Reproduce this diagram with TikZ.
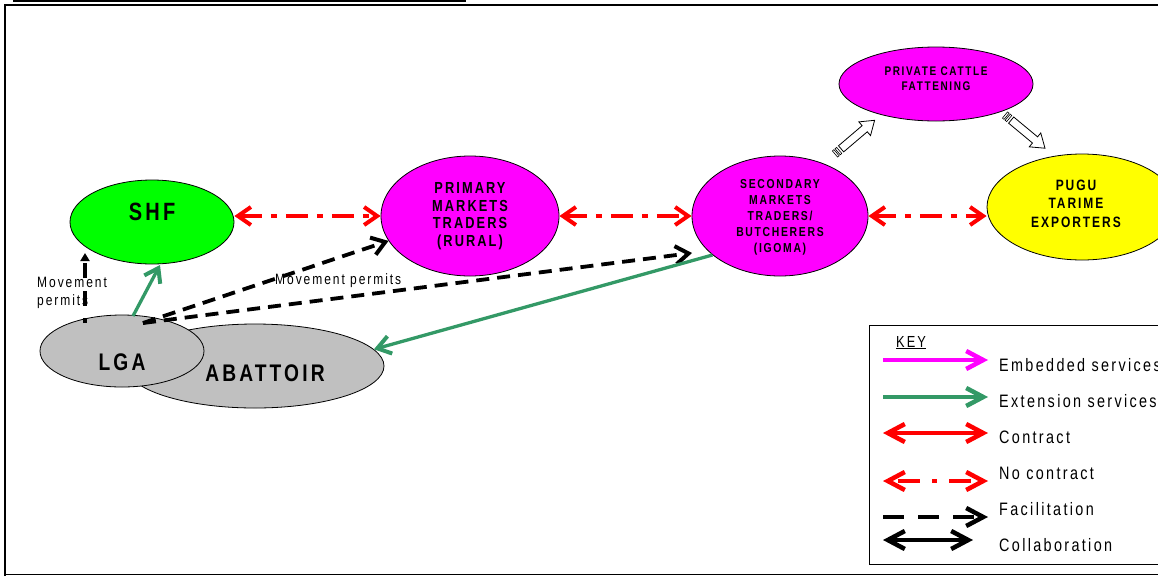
\documentclass[tikz,border=0pt]{standalone}
\usepackage{fontspec}
\setmainfont{Liberation Sans}
\newfontfamily\spaced[FakeStretch=0.8,LetterSpace=13]{Liberation Sans}
\usetikzlibrary{arrows.meta,shapes.geometric,calc}
\definecolor{extgreen}{RGB}{51,153,102}
\definecolor{lightgrey}{RGB}{192,192,192}
\definecolor{pink}{RGB}{255,0,255}
\definecolor{brightgreen}{RGB}{0,255,0}
\definecolor{brightyellow}{RGB}{255,255,0}
\definecolor{brightred}{RGB}{255,0,0}
\begin{document}
\begin{tikzpicture}[x=1pt,y=-1pt,
  chev/.tip={Straight Barb[length=13pt,width=18pt,line width=4pt]},
  keychev/.tip={Straight Barb[length=17pt,width=18pt,line width=4.5pt]},
  oval/.style={ellipse, draw=black, line width=0.8pt, inner sep=0pt},
  lbl/.style={align=center, inner sep=0pt, font=\spaced\bfseries},
  nocontract/.style={draw=brightred, line width=4pt, dash pattern=on 22pt off 9pt on 6pt off 9pt, chev-chev},
  facil/.style={draw=black, line width=3.8pt, dash pattern=on 13pt off 8pt, -chev},
  ext/.style={draw=extgreen, line width=3.3pt, -chev},
  note/.style={inner sep=0pt, align=left, font=\spaced\fontsize{15}{18}\selectfont},
  keytext/.style={anchor=base west, inner sep=0pt, font=\spaced\fontsize{18}{20}\selectfont},
  hollowarrow/.pic={
    \draw[fill=white, line width=0.8pt] (8,-4) -- (39,-4) -- (39,-9) -- (52,0) -- (39,9) -- (39,4) -- (8,4) -- cycle;
    \draw[fill=white, line width=0.6pt] (0,-4) rectangle (2,4) (3.5,-4) rectangle (5.5,4);
  }]
\useasboundingbox (0,0) rectangle (1158,576);

% page frame
\draw[line width=1.5pt] (13,1) -- (466,1);
\draw[line width=2.5pt] (5,576) -- (5,5) -- (1162,5);
\draw[line width=1pt] (5,574.5) -- (1162,574.5);

% actors
\node[oval, fill=lightgrey, minimum width=258pt, minimum height=84pt] (abat) at (255,366) {};
\node[oval, fill=lightgrey, minimum width=164pt, minimum height=72pt] (lga) at (122,351) {};
\node[oval, fill=brightgreen, minimum width=164pt, minimum height=84pt] (shf) at (152,222) {};
\node[oval, fill=pink, minimum width=178pt, minimum height=120pt] (prim) at (470,216) {};
\node[oval, fill=pink, minimum width=176pt, minimum height=120pt] (sec) at (780,216) {};
\node[oval, fill=pink, minimum width=194pt, minimum height=74pt] (priv) at (936,84) {};
\node[oval, fill=brightyellow, minimum width=190pt, minimum height=106pt] (pugu) at (1082,207) {};

\node[lbl, font=\spaced\bfseries\fontsize{25}{30}\selectfont] (shftxt) at ([yshift=10pt]shf.center) {SHF};
\node[lbl, font=\spaced\bfseries\fontsize{24}{28}\selectfont] (lgatxt) at ([yshift=-11pt]lga.center) {LGA};
\node[lbl, font=\spaced\bfseries\fontsize{24}{28}\selectfont] (abattxt) at ([shift={(10pt,-7pt)}]abat.center) {ABATTOIR};
\node[lbl, font=\spaced\bfseries\fontsize{16}{17.5}\selectfont] (primtxt) at (prim.center) {PRIMARY\\MARKETS\\TRADERS\\(RURAL)};
\node[lbl, font=\spaced\bfseries\fontsize{13}{16}\selectfont] (sectxt) at ([yshift=-1pt]sec.center) {SECONDARY\\MARKETS\\TRADERS/\\BUTCHERERS\\(IGOMA)};
\node[lbl, font=\spaced\bfseries\fontsize{12.5}{15.3}\selectfont] (privtxt) at ([yshift=5.5pt]priv.center) {PRIVATE CATTLE\\FATTENING};
\node[lbl, font=\spaced\bfseries\fontsize{15}{18.5}\selectfont] (pugutxt) at ([shift={(-6pt,3.5pt)}]pugu.center) {PUGU\\TARIME\\EXPORTERS};

% notes on the permit arrows
\node[note, anchor=base west] (permit1) at (37,305) {Movement\\permits};
\node[note, anchor=base west] (permit2) at (275,284) {Movement permits};

% no contract
\draw[nocontract] ([yshift=6pt]shf.east) -- (prim.west);
\draw[nocontract] (prim.east) -- (sec.west);
\draw[nocontract] (sec.east) -- ([yshift=-9pt]pugu.west);

% facilitation
\draw[draw=black, line width=3.8pt, dash pattern=on 15pt off 12.5pt, dash phase=10pt, -{Triangle[length=8pt,width=9pt]}]
  ([shift={(-37pt,28pt)}]lga.center) -- ([shift={(-67pt,-31pt)}]shf.center);
\draw[facil] ([shift={(21pt,28pt)}]lga.center) -- (prim.197);
\draw[facil] ([shift={(21pt,28pt)}]lga.center) -- ([shift={(-88pt,-37pt)}]sec.center);

% extension services
\draw[ext] ([shift={(11pt,35pt)}]lga.center) -- ([shift={(8pt,-43pt)}]shf.center);
\draw[ext] (sec.210) -- (abat.8);

% flows to and from the fattening units
\pic[rotate=40.4] at (835,154) {hollowarrow};
\pic[rotate=-39.7] at (1005,115) {hollowarrow};

% key
\node[draw=black, line width=0.8pt, anchor=north west, minimum width=301pt, minimum height=239pt, inner sep=0pt] (keybox) at (869,325) {};
\node[keytext, font=\spaced\fontsize{16}{18}\selectfont] (keyhead) at (896,347) {\underline{KEY}};
\node[keytext] (k1) at (999,371) {Embedded services};
\node[keytext] (k2) at (999,407) {Extension services};
\node[keytext] (k3) at (999,443) {Contract};
\node[keytext] (k4) at (999,479) {No contract};
\node[keytext] (k5) at (999,515) {Facilitation};
\node[keytext] (k6) at (999,551) {Collaboration};

\coordinate (k1a) at (883,360); \coordinate (k1b) at (988,360);
\coordinate (k2a) at (883,397); \coordinate (k2b) at (988,397);
\coordinate (k3a) at (883,433); \coordinate (k3b) at (988,433);
\coordinate (k4a) at (883,481); \coordinate (k4b) at (988,481);
\coordinate (k5a) at (883,517); \coordinate (k5b) at (988,517);
\coordinate (k6a) at (883,540); \coordinate (k6b) at (973,540);

\draw[draw=pink, line width=4.5pt, -keychev] (k1a) -- (k1b);
\draw[draw=extgreen, line width=4.5pt, -keychev] (k2a) -- (k2b);
\draw[draw=brightred, line width=4.5pt, keychev-keychev] (k3a) -- (k3b);
\draw[draw=brightred, line width=4.5pt, dash pattern=on 22pt off 12pt on 5pt off 12pt, dash phase=-8pt, keychev-keychev] (k4a) -- (k4b);
\draw[draw=black, line width=4.5pt, dash pattern=on 21pt off 14pt, -keychev] (k5a) -- (k5b);
\draw[draw=black, line width=4.5pt, keychev-keychev] (k6a) -- (k6b);
\end{tikzpicture}
\end{document}
